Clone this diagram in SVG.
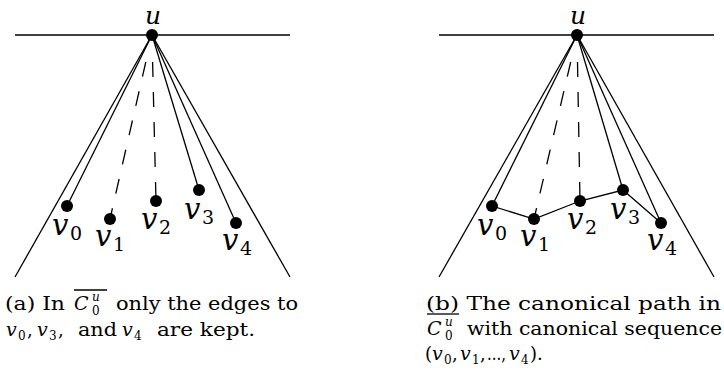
<svg xmlns="http://www.w3.org/2000/svg" width="724" height="375" viewBox="0 0 724 375">
<style>
  .ln { stroke:#000; stroke-width:1.3; fill:none; }
  .dash { stroke:#000; stroke-width:1.3; fill:none; stroke-dasharray:15 15; }
  .nd { fill:#000; }
  text { font-family:'DejaVu Serif',serif; fill:#000; }
  .lbl { font-style:italic; font-size:29px; }
  .ulbl { font-style:italic; font-size:25px; }
  .sub { font-size:19px; }
  .cap { font-size:18px; }
  .capi { font-style:italic; font-size:19px; }
  .caps { font-size:12px; }
  .capsi { font-style:italic; font-size:12px; }
</style>
<g id="connectors">
  <line class="ln" x1="15" y1="35" x2="290" y2="35"/>
  <line class="ln" x1="152" y1="35" x2="15" y2="277"/>
  <line class="ln" x1="152" y1="35" x2="290" y2="277"/>
  <line class="ln" x1="152" y1="35" x2="67" y2="206"/>
  <line class="dash" x1="145.8" y1="62" x2="110" y2="219"/>
  <line class="dash" x1="152.6" y1="62" x2="156" y2="201"/>
  <line class="ln" x1="152" y1="35" x2="199" y2="190"/>
  <line class="ln" x1="152" y1="35" x2="236" y2="223"/>
  <line class="ln" x1="439" y1="35" x2="714" y2="35"/>
  <line class="ln" x1="577" y1="35" x2="439" y2="277"/>
  <line class="ln" x1="577" y1="35" x2="714" y2="277"/>
  <line class="ln" x1="577" y1="35" x2="492" y2="206"/>
  <line class="dash" x1="570.7" y1="62" x2="534" y2="219"/>
  <line class="dash" x1="577.5" y1="62" x2="580" y2="201"/>
  <line class="ln" x1="577" y1="35" x2="623" y2="190"/>
  <line class="ln" x1="577" y1="35" x2="661" y2="223"/>
  <polyline class="ln" points="492,206 534,219 580,201 623,190 661,223"/>
</g>
<g id="a-u"><circle class="nd" cx="152" cy="35" r="6"/><text class="ulbl" x="153" y="24" text-anchor="middle">u</text></g>
<g id="a-v0"><circle class="nd" cx="67" cy="206" r="6"/><text class="lbl" x="52" y="235">v</text><text class="sub" x="70" y="240">0</text></g>
<g id="a-v1"><circle class="nd" cx="110" cy="219" r="6"/><text class="lbl" x="95" y="246">v</text><text class="sub" x="113" y="251">1</text></g>
<g id="a-v2"><circle class="nd" cx="156" cy="201" r="6"/><text class="lbl" x="141" y="229">v</text><text class="sub" x="159" y="234">2</text></g>
<g id="a-v3"><circle class="nd" cx="199" cy="190" r="6"/><text class="lbl" x="184" y="219">v</text><text class="sub" x="202" y="224">3</text></g>
<g id="a-v4"><circle class="nd" cx="236" cy="223" r="6"/><text class="lbl" x="222" y="250">v</text><text class="sub" x="240" y="255">4</text></g>

<g id="b-u"><circle class="nd" cx="577" cy="35" r="6"/><text class="ulbl" x="578" y="24" text-anchor="middle">u</text></g>
<g id="b-v0"><circle class="nd" cx="492" cy="206" r="6"/><text class="lbl" x="477" y="235">v</text><text class="sub" x="495" y="240">0</text></g>
<g id="b-v1"><circle class="nd" cx="534" cy="219" r="6"/><text class="lbl" x="520" y="246">v</text><text class="sub" x="538" y="251">1</text></g>
<g id="b-v2"><circle class="nd" cx="580" cy="201" r="6"/><text class="lbl" x="567" y="229">v</text><text class="sub" x="585" y="234">2</text></g>
<g id="b-v3"><circle class="nd" cx="623" cy="190" r="6"/><text class="lbl" x="610" y="219">v</text><text class="sub" x="628" y="224">3</text></g>
<g id="b-v4"><circle class="nd" cx="661" cy="223" r="6"/><text class="lbl" x="647" y="250">v</text><text class="sub" x="665" y="255">4</text></g>

<g id="caption-a">
  <text class="cap" x="5" y="310" textLength="60" lengthAdjust="spacingAndGlyphs">(a) In</text>
  <text class="capi" x="74" y="310">C</text>
  <text class="capsi" x="92" y="301">u</text>
  <text class="caps" x="92" y="315">0</text>
  <line class="ln" x1="74" y1="290" x2="107" y2="290" stroke-width="1.2"/>
  <text class="cap" x="116" y="310" textLength="182" lengthAdjust="spacingAndGlyphs">only the edges to</text>
  <text class="capi" x="6" y="336">v</text><text class="caps" x="18" y="340">0</text><text class="cap" x="27" y="336">,</text>
  <text class="capi" x="37" y="336">v</text><text class="caps" x="49" y="340">3</text><text class="cap" x="58" y="336">,</text>
  <text class="cap" x="78" y="336" textLength="39" lengthAdjust="spacingAndGlyphs">and</text>
  <text class="capi" x="122" y="336">v</text><text class="caps" x="134" y="340">4</text>
  <text class="cap" x="157" y="336" textLength="98" lengthAdjust="spacingAndGlyphs">are kept.</text>
</g>
<g id="caption-b">
  <text class="cap" x="426" y="310" textLength="295" lengthAdjust="spacingAndGlyphs">(b) The canonical path in</text>
  <line class="ln" x1="427" y1="314" x2="459" y2="314" stroke-width="1.2"/>
  <text class="capi" x="427" y="335">C</text>
  <text class="capsi" x="445" y="326">u</text>
  <text class="caps" x="445" y="340">0</text>
  <text class="cap" x="467" y="335" textLength="255" lengthAdjust="spacingAndGlyphs">with canonical sequence</text>
  <text class="cap" x="425" y="360">(</text>
  <text class="capi" x="432" y="360">v</text><text class="caps" x="444" y="364">0</text><text class="cap" x="452" y="360">,</text>
  <text class="capi" x="460" y="360">v</text><text class="caps" x="472" y="364">1</text><text class="cap" x="480" y="360">,</text>
  <text class="cap" x="487" y="360" textLength="19" lengthAdjust="spacingAndGlyphs">...,</text>
  <text class="capi" x="509" y="360">v</text><text class="caps" x="521" y="364">4</text><text class="cap" x="530" y="360">).</text>
</g>
</svg>
